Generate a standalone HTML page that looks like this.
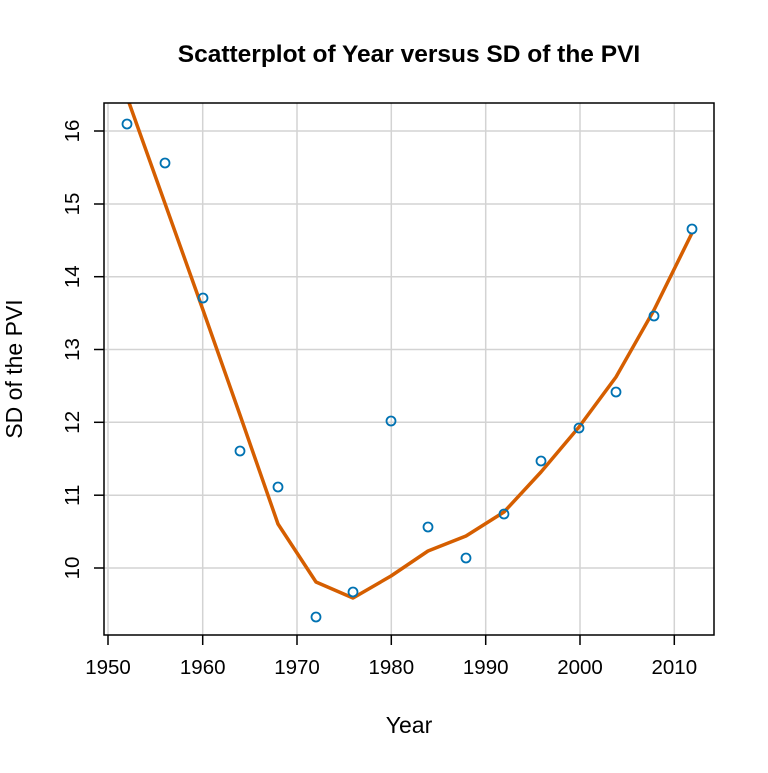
<!DOCTYPE html>
<html><head><meta charset="utf-8"><style>body{margin:0;background:#fff}</style></head>
<body>
<svg width="768" height="768" xmlns="http://www.w3.org/2000/svg" font-family="Liberation Sans, Arial, sans-serif">
<rect width="768" height="768" fill="#fff"/>
<defs><clipPath id="c"><rect x="104" y="103" width="610" height="532"/></clipPath></defs>
<g stroke="#d3d3d3" stroke-width="1.5">
<line x1="108" y1="103" x2="108" y2="635"/><line x1="202.7" y1="103" x2="202.7" y2="635"/><line x1="297" y1="103" x2="297" y2="635"/><line x1="391.3" y1="103" x2="391.3" y2="635"/><line x1="485.7" y1="103" x2="485.7" y2="635"/><line x1="580" y1="103" x2="580" y2="635"/><line x1="674.3" y1="103" x2="674.3" y2="635"/>
<line x1="104" y1="131" x2="714" y2="131"/><line x1="104" y1="204" x2="714" y2="204"/><line x1="104" y1="276.7" x2="714" y2="276.7"/><line x1="104" y1="349.5" x2="714" y2="349.5"/><line x1="104" y1="422.3" x2="714" y2="422.3"/><line x1="104" y1="495.2" x2="714" y2="495.2"/><line x1="104" y1="568" x2="714" y2="568"/>
</g>
<polyline clip-path="url(#c)" fill="none" stroke="#d55e00" stroke-width="3.5" stroke-linejoin="round" points="122,85 127,97 203,310 240,415 278,524 316,582 353,598 391,576 428,551 466,536 504,512 541,472 579,427 616,377 654,310 692,233"/>
<g fill="none" stroke="#0072b2" stroke-width="1.8">
<circle cx="127" cy="124" r="4.5"/><circle cx="165" cy="163" r="4.5"/><circle cx="203" cy="298" r="4.5"/><circle cx="240" cy="451" r="4.5"/><circle cx="278" cy="487" r="4.5"/><circle cx="316" cy="617" r="4.5"/><circle cx="353" cy="592" r="4.5"/><circle cx="391" cy="421" r="4.5"/><circle cx="428" cy="527" r="4.5"/><circle cx="466" cy="558" r="4.5"/><circle cx="504" cy="514" r="4.5"/><circle cx="541" cy="461" r="4.5"/><circle cx="579" cy="428" r="4.5"/><circle cx="616" cy="392" r="4.5"/><circle cx="654" cy="316" r="4.5"/><circle cx="692" cy="229" r="4.5"/>
</g>
<rect x="104" y="103" width="610" height="532" fill="none" stroke="#000" stroke-width="1.5"/>
<g stroke="#000" stroke-width="1.5">
<line x1="108" y1="635" x2="108" y2="645"/><line x1="202.7" y1="635" x2="202.7" y2="645"/><line x1="297" y1="635" x2="297" y2="645"/><line x1="391.3" y1="635" x2="391.3" y2="645"/><line x1="485.7" y1="635" x2="485.7" y2="645"/><line x1="580" y1="635" x2="580" y2="645"/><line x1="674.3" y1="635" x2="674.3" y2="645"/>
<line x1="94" y1="131" x2="104" y2="131"/><line x1="94" y1="204" x2="104" y2="204"/><line x1="94" y1="276.7" x2="104" y2="276.7"/><line x1="94" y1="349.5" x2="104" y2="349.5"/><line x1="94" y1="422.3" x2="104" y2="422.3"/><line x1="94" y1="495.2" x2="104" y2="495.2"/><line x1="94" y1="568" x2="104" y2="568"/>
</g>
<g font-size="20.5" text-anchor="middle" fill="#000">
<text x="108" y="674">1950</text><text x="202.7" y="674">1960</text><text x="297" y="674">1970</text><text x="391.3" y="674">1980</text><text x="485.7" y="674">1990</text><text x="580" y="674">2000</text><text x="674.3" y="674">2010</text>
<text transform="translate(79,131) rotate(-90)">16</text><text transform="translate(79,204) rotate(-90)">15</text><text transform="translate(79,276.7) rotate(-90)">14</text><text transform="translate(79,349.5) rotate(-90)">13</text><text transform="translate(79,422.3) rotate(-90)">12</text><text transform="translate(79,495.2) rotate(-90)">11</text><text transform="translate(79,568) rotate(-90)">10</text>
</g>
<text x="409" y="733" font-size="23" text-anchor="middle">Year</text>
<text transform="translate(22,369) rotate(-90)" font-size="23" text-anchor="middle">SD of the PVI</text>
<text x="409" y="62" font-size="24.5" font-weight="bold" text-anchor="middle">Scatterplot of Year versus SD of the PVI</text>
</svg>
</body></html>
